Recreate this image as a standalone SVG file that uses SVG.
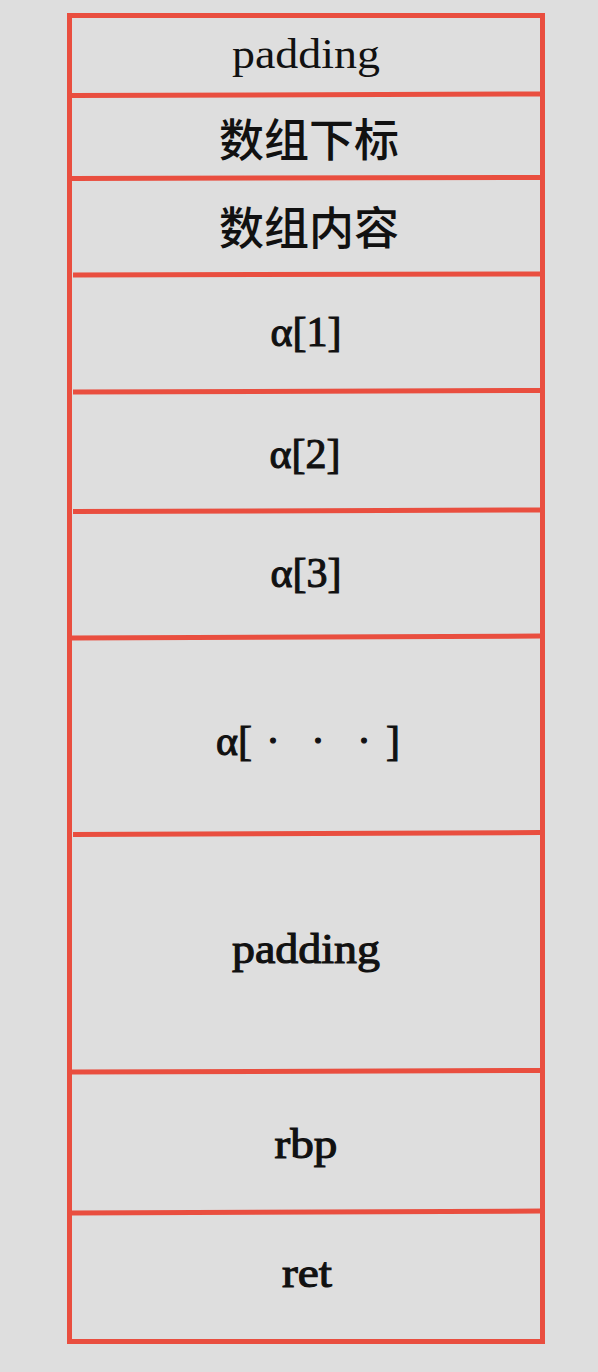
<svg xmlns="http://www.w3.org/2000/svg" width="598" height="1372" viewBox="0 0 598 1372">
  <style>
    .bg { fill: #dedede; }
    .frame { fill: none; stroke: #e94e3f; stroke-width: 5; }
    .div { stroke: #e94e3f; stroke-width: 5; fill: none; }
    .lat { font-family: "Liberation Serif", "DejaVu Serif", serif; font-size: 42px; fill: #111; text-anchor: middle; }
    .st { text-anchor: start; }
    .b { stroke: #111; stroke-width: 1.1; }
    .cjk { font-family: "Noto Sans CJK SC", "Noto Sans CJK JP", sans-serif; font-size: 45px; fill: #111; text-anchor: middle; font-weight: 500; }
  </style>
  <rect class="bg" x="0" y="0" width="598" height="1372"/>
  <g id="connectors">
    <rect class="frame" x="69.5" y="15.5" width="473" height="1326"/>
    <line class="div" x1="72" y1="95.5" x2="540" y2="94"/>
    <line class="div" x1="72" y1="178.5" x2="540" y2="177.5"/>
    <line class="div" x1="73" y1="275" x2="540" y2="274"/>
    <line class="div" x1="73" y1="392" x2="540" y2="390.5"/>
    <line class="div" x1="73" y1="511.5" x2="540" y2="510"/>
    <line class="div" x1="72" y1="638" x2="540" y2="636"/>
    <line class="div" x1="73" y1="834.5" x2="540" y2="832.5"/>
    <line class="div" x1="72" y1="1072" x2="540" y2="1070.5"/>
    <line class="div" x1="72" y1="1213" x2="540" y2="1211"/>
  </g>
  <g id="padding-top"><text class="lat" x="306" y="68" textLength="148" lengthAdjust="spacingAndGlyphs">padding</text></g>
  <g id="index"><text class="cjk" x="309" y="157">数组下标</text></g>
  <g id="content"><text class="cjk" x="309" y="245">数组内容</text></g>
  <g id="a1"><text class="lat b" x="306" y="346">α[1]</text></g>
  <g id="a2"><text class="lat b" x="305" y="468">α[2]</text></g>
  <g id="a3"><text class="lat b" x="306" y="587">α[3]</text></g>
  <g id="a-more"><text class="lat st b" x="216" y="755"><tspan x="216">α[</tspan><tspan x="266">·</tspan><tspan x="311">·</tspan><tspan x="357">·</tspan><tspan x="386">]</tspan></text></g>
  <g id="padding-mid"><text class="lat b" x="306" y="963" textLength="148" lengthAdjust="spacingAndGlyphs">padding</text></g>
  <g id="rbp"><text class="lat b" x="306" y="1158" textLength="63" lengthAdjust="spacingAndGlyphs">rbp</text></g>
  <g id="ret"><text class="lat b" x="307" y="1287" textLength="50" lengthAdjust="spacingAndGlyphs">ret</text></g>
</svg>
